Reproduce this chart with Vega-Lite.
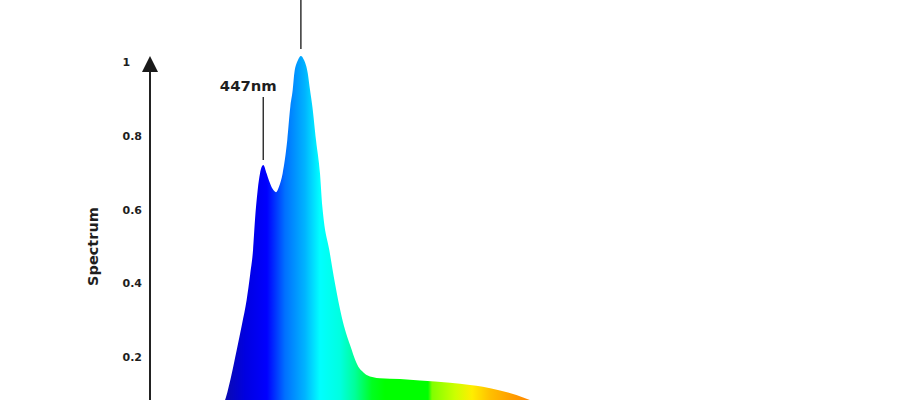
{
  "$schema": "https://vega.github.io/schema/vega-lite/v6.json",
  "autosize": "none",
  "padding": {"left": 150, "top": 0, "right": 0, "bottom": 0},
  "width": 770,
  "height": 400,
  "background": "white",
  "config": {"view": {"stroke": null}},
  "layer": [
    {
      "data": {"values": [
        {"wl": 400, "v": 0.0}, {"wl": 410, "v": 0.012}, {"wl": 416, "v": 0.035}, {"wl": 420, "v": 0.06},
        {"wl": 422.9, "v": 0.084}, {"wl": 426.8, "v": 0.15}, {"wl": 430.2, "v": 0.22}, {"wl": 433.5, "v": 0.29},
        {"wl": 436.4, "v": 0.356}, {"wl": 438.6, "v": 0.425}, {"wl": 440.4, "v": 0.492}, {"wl": 441.6, "v": 0.573},
        {"wl": 443.3, "v": 0.655}, {"wl": 444.75, "v": 0.7}, {"wl": 446.8, "v": 0.723},
        {"wl": 448.9, "v": 0.7}, {"wl": 450.4, "v": 0.68}, {"wl": 452.6, "v": 0.658}, {"wl": 454.75, "v": 0.649},
        {"wl": 456.6, "v": 0.664}, {"wl": 458.9, "v": 0.7}, {"wl": 461.8, "v": 0.791}, {"wl": 463.7, "v": 0.881},
        {"wl": 465.2, "v": 0.927}, {"wl": 466.2, "v": 0.972}, {"wl": 468.5, "v": 1.008}, {"wl": 470.3, "v": 1.019},
        {"wl": 472.25, "v": 1.008}, {"wl": 474.6, "v": 0.972}, {"wl": 476, "v": 0.927}, {"wl": 477.5, "v": 0.881},
        {"wl": 479.75, "v": 0.791}, {"wl": 482.25, "v": 0.7}, {"wl": 483.7, "v": 0.61}, {"wl": 484.6, "v": 0.573},
        {"wl": 488.06, "v": 0.4918}, {"wl": 491.6, "v": 0.4013}, {"wl": 495.8, "v": 0.3106}, {"wl": 498.5, "v": 0.266},
        {"wl": 502.1, "v": 0.2201}, {"wl": 503.8, "v": 0.198}, {"wl": 506.2, "v": 0.1747}, {"wl": 508.5, "v": 0.163},
        {"wl": 511.4, "v": 0.1522}, {"wl": 519.75, "v": 0.1432}, {"wl": 532.25, "v": 0.141}, {"wl": 544.75, "v": 0.137},
        {"wl": 563.5, "v": 0.131}, {"wl": 576, "v": 0.125}, {"wl": 584, "v": 0.12}, {"wl": 594.75, "v": 0.11},
        {"wl": 605, "v": 0.098}, {"wl": 613.5, "v": 0.084}, {"wl": 625, "v": 0.06}, {"wl": 640, "v": 0.035},
        {"wl": 655, "v": 0.015}, {"wl": 668, "v": 0.005}, {"wl": 680, "v": 0.0}
      ]},
      "mark": {
        "type": "area",
        "interpolate": "monotone",
        "clip": true,
        "opacity": 1,
        "fill": {
          "gradient": "linear",
          "x1": 0, "x2": 1, "y1": 0, "y2": 0,
          "stops": [
            {"offset": 0, "color": "#000080"},
            {"offset": 0.0817, "color": "#0a0ab0"},
            {"offset": 0.1263, "color": "#0000e0"},
            {"offset": 0.1754, "color": "#0000ff"},
            {"offset": 0.2156, "color": "#0070ff"},
            {"offset": 0.2603, "color": "#00b4ff"},
            {"offset": 0.2938, "color": "#00ffff"},
            {"offset": 0.3384, "color": "#00ffe0"},
            {"offset": 0.3719, "color": "#00ff99"},
            {"offset": 0.4098, "color": "#00ff20"},
            {"offset": 0.4388, "color": "#00ff00"},
            {"offset": 0.5348, "color": "#00ff00"},
            {"offset": 0.5438, "color": "#80ff00"},
            {"offset": 0.5951, "color": "#ccff00"},
            {"offset": 0.633, "color": "#ffee00"},
            {"offset": 0.6732, "color": "#ffc000"},
            {"offset": 0.7179, "color": "#ffa000"},
            {"offset": 0.7737, "color": "#ff8000"},
            {"offset": 0.8295, "color": "#ff5000"},
            {"offset": 0.9188, "color": "#ff0000"},
            {"offset": 1, "color": "#cc0000"}
          ]
        }
      },
      "encoding": {
        "x": {"field": "wl", "type": "quantitative", "scale": {"domain": [376, 857.25], "nice": false, "zero": false}, "axis": null},
        "y": {
          "field": "v", "type": "quantitative",
          "scale": {"domain": [0.0842, 1.1712], "nice": false, "zero": false},
          "axis": {
            "values": [0.2, 0.4, 0.6, 0.8, 1],
            "format": "~g",
            "domain": false, "ticks": false, "tickSize": 0, "grid": false,
            "labelAlign": "left", "labelPadding": 28, "labelBaseline": "middle",
            "labelFont": "DejaVu Sans", "labelFontSize": 11, "labelFontWeight": "bold", "labelColor": "#1e1e1e",
            "title": "Spectrum", "titleFont": "DejaVu Sans", "titleFontSize": 14.5, "titleFontWeight": "bold",
            "titleColor": "#1e1e1e", "titleX": -57, "titleY": 246, "titleAngle": 270, "titleBaseline": "middle", "titleAlign": "center"
          }
        }
      }
    },
    {
      "data": {"values": [{"wl": 376, "v": 0.0842, "v2": 0.9755}]},
      "mark": {"type": "rule", "color": "#222222", "strokeWidth": 2},
      "encoding": {
        "x": {"field": "wl", "type": "quantitative"},
        "y": {"field": "v", "type": "quantitative"},
        "y2": {"field": "v2"}
      }
    },
    {
      "data": {"values": [{"wl": 376, "v": 0.9973}]},
      "mark": {"type": "point", "shape": "M-1,1L0,-1L1,1Z", "size": 256, "filled": true, "color": "#1a1a1a", "opacity": 1},
      "encoding": {
        "x": {"field": "wl", "type": "quantitative"},
        "y": {"field": "v", "type": "quantitative"}
      }
    },
    {
      "data": {"values": [{"wl": 446.8, "v": 0.7364, "v2": 0.9076}, {"wl": 470.3, "v": 1.038, "v2": 1.1712}]},
      "mark": {"type": "rule", "color": "#333333", "strokeWidth": 1.5},
      "encoding": {
        "x": {"field": "wl", "type": "quantitative"},
        "y": {"field": "v", "type": "quantitative"},
        "y2": {"field": "v2"}
      }
    },
    {
      "data": {"values": [{"wl": 446.8, "v": 0.936, "label": "447nm"}]},
      "mark": {"type": "text", "dx": -15, "baseline": "middle", "align": "center", "font": "DejaVu Sans", "fontSize": 14.8, "fontWeight": "bold", "color": "#1e1e1e"},
      "encoding": {
        "x": {"field": "wl", "type": "quantitative"},
        "y": {"field": "v", "type": "quantitative"},
        "text": {"field": "label"}
      }
    }
  ]
}
